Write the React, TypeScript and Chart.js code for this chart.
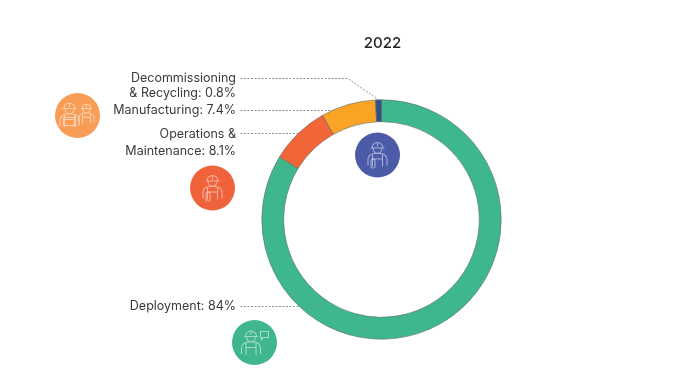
import React, { useEffect, useRef } from "react";
import { Chart, registerables } from "chart.js";

Chart.register(...registerables);

const categories = ["Deployment", "Operations & Maintenance", "Manufacturing", "Decommissioning & Recycling"];
const values = [84, 8.1, 7.4, 0.8];
const colors = ["#3EB78C", "#F26539", "#FAA325", "#2F5288"];
const title = "2022";
const labelLines = [
  ["Deployment: 84%"],
  ["Operations &", "Maintenance: 8.1%"],
  ["Manufacturing: 7.4%"],
  ["Decommissioning", "& Recycling: 0.8%"],
];
const leaderY = [306, 133, 110, 78];
const textY = [306.5, 134, 110, 78];
const lineGap = [0, 17, 0, 15];
const iconCircles = [
  { x: 254.5, y: 342.5, c: "#3FB68B", kind: "talk" },
  { x: 212.5, y: 188, c: "#F0623A", kind: "tool" },
  { x: 77.5, y: 115.5, c: "#F89C56", kind: "two" },
  { x: 377.5, y: 155, c: "#4B5BA8", kind: "tool" },
];

const FONT = "Inter, sans-serif";

function person(ctx: CanvasRenderingContext2D, x: number, y: number, s: number) {
  ctx.save();
  ctx.translate(x, y);
  ctx.scale(s, s);
  ctx.lineWidth = 1.1 / s;
  ctx.beginPath();
  // hard hat
  ctx.arc(0, -8, 5.5, Math.PI, 0);
  ctx.moveTo(-6.5, -8);
  ctx.lineTo(6.5, -8);
  ctx.moveTo(0, -13.5);
  ctx.lineTo(0, -10);
  // face
  ctx.moveTo(-4.3, -8);
  ctx.arc(0, -7, 4.3, Math.PI, 0, true);
  // shoulders and arms
  ctx.moveTo(-9.5, 9);
  ctx.lineTo(-9.5, 3);
  ctx.quadraticCurveTo(-9, -1.5, -3.5, -2.5);
  ctx.lineTo(3.5, -2.5);
  ctx.quadraticCurveTo(9, -1.5, 9.5, 3);
  ctx.lineTo(9.5, 9);
  // overalls
  ctx.moveTo(-5, -2);
  ctx.lineTo(-5, 10);
  ctx.moveTo(5, -2);
  ctx.lineTo(5, 10);
  ctx.moveTo(-5, 3);
  ctx.lineTo(5, 3);
  ctx.stroke();
  ctx.restore();
}

const decor = {
  id: "decor",
  afterDatasetsDraw(chart: any) {
    const ctx = chart.ctx as CanvasRenderingContext2D;
    const arcs = chart.getDatasetMeta(0).data;
    const { x: cx, y: cy, outerRadius: r } = arcs[0];
    ctx.save();
    ctx.font = `12.5px ${FONT}`;
    ctx.fillStyle = "#3a3a3d";
    ctx.textAlign = "right";
    ctx.textBaseline = "middle";
    categories.forEach((_, i) => {
      const y = leaderY[i];
      labelLines[i].forEach((t, j) => ctx.fillText(t, 236, textY[i] + j * lineGap[i]));
      ctx.strokeStyle = "#777";
      ctx.lineWidth = 0.8;
      ctx.setLineDash([2, 1.5]);
      ctx.beginPath();
      ctx.moveTo(240.5, y + 0.5);
      if (i === 3) {
        const mid = (arcs[i].startAngle + arcs[i].endAngle) / 2;
        ctx.lineTo(348, y + 0.5);
        ctx.lineTo(cx + r * Math.cos(mid), cy + r * Math.sin(mid));
      } else {
        const dx = Math.sqrt(r * r - (y - cy) * (y - cy));
        ctx.lineTo(cx - dx, y + 0.5);
      }
      ctx.stroke();
    });
    ctx.setLineDash([]);
    ctx.restore();

    iconCircles.forEach((ic) => {
      ctx.save();
      ctx.fillStyle = ic.c;
      ctx.beginPath();
      ctx.arc(ic.x, ic.y, 22.5, 0, Math.PI * 2);
      ctx.fill();
      ctx.strokeStyle = "rgba(255,255,255,0.5)";
      ctx.lineCap = "round";
      ctx.lineWidth = 1.1;
      if (ic.kind === "two") {
        person(ctx, ic.x + 9, ic.y - 0.5, 0.8);
        person(ctx, ic.x - 8, ic.y + 1, 1);
        ctx.strokeRect(ic.x - 14, ic.y + 2, 12, 8);
      } else if (ic.kind === "talk") {
        person(ctx, ic.x - 3.5, ic.y + 2, 1);
        ctx.beginPath();
        ctx.moveTo(ic.x + 6, ic.y - 11);
        ctx.lineTo(ic.x + 14, ic.y - 11);
        ctx.lineTo(ic.x + 14, ic.y - 5);
        ctx.lineTo(ic.x + 9, ic.y - 5);
        ctx.lineTo(ic.x + 7, ic.y - 2.5);
        ctx.lineTo(ic.x + 7, ic.y - 5);
        ctx.lineTo(ic.x + 6, ic.y - 5);
        ctx.closePath();
        ctx.stroke();
      } else {
        person(ctx, ic.x, ic.y + 1, 1);
        ctx.beginPath();
        ctx.roundRect(ic.x - 6.5, ic.y + 4, 4, 9, 1.5);
        ctx.stroke();
      }
      ctx.restore();
    });
  },
};

export default function App() {
  const ref = useRef<HTMLCanvasElement>(null);
  useEffect(() => {
    document.body.style.margin = "0";
    document.body.style.background = "#fff";
    const chart = new Chart(ref.current!, {
      type: "doughnut",
      data: {
        labels: categories,
        datasets: [{ data: values, backgroundColor: colors, borderColor: "#5f6b66", borderWidth: 0.6 }],
      },
      options: {
        animation: false,
        responsive: false,
        cutout: "81.7%",
        layout: { padding: { left: 261.5, right: 194.5, top: 99.5, bottom: 37.5 } },
        plugins: {
          legend: { display: false },
          tooltip: { enabled: false },
          title: { display: false, text: title },
          subtitle: { display: false },
        },
      },
      plugins: [
        decor,
        {
          id: "yearTitle",
          afterDraw(c: any) {
            const ctx = c.ctx as CanvasRenderingContext2D;
            ctx.save();
            ctx.font = `500 15px ${FONT}`;
            ctx.fillStyle = "#222";
            ctx.textAlign = "center";
            ctx.textBaseline = "middle";
            ctx.fillText(title, 382.5, 43);
            ctx.restore();
          },
        },
      ],
    });
    return () => chart.destroy();
  }, []);
  return <canvas ref={ref} width={696} height={377} style={{ display: "block", width: 696, height: 377 }} />;
}
